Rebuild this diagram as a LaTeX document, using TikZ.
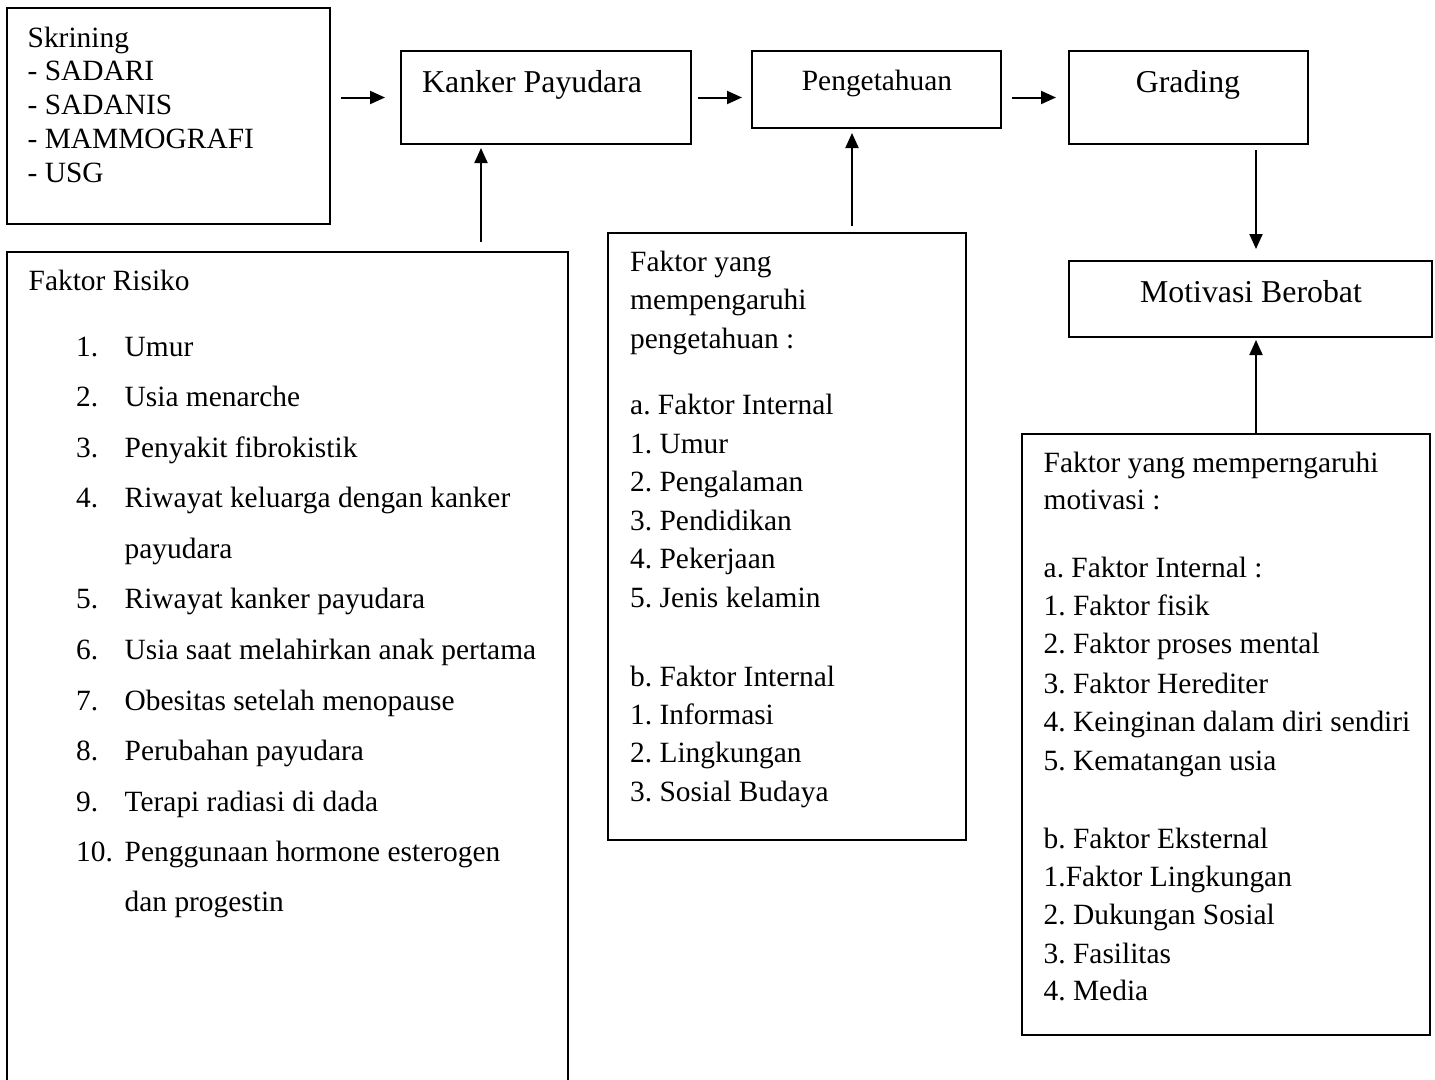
\documentclass[tikz,border=0pt]{standalone}
\usepackage{fontspec}
\setmainfont{Liberation Serif}
\usetikzlibrary{arrows.meta,calc}
\newcommand\fsa{\frenchspacing\fontsize{29.4pt}{35pt}\selectfont}
\newcommand\fsb{\frenchspacing\fontsize{31.8pt}{38pt}\selectfont}
\begin{document}
\frenchspacing
\begin{tikzpicture}[x=1pt,y=-1pt,
  box/.style={draw,line width=2pt,inner sep=0pt,rectangle},
  conn/.style={line width=2pt,-{Triangle[length=15pt,width=13pt]}},
  txt/.style={inner sep=0pt,anchor=base west,font=\fsa},
  ctxt/.style={inner sep=0pt,anchor=base,font=\fsb}]
\useasboundingbox (0,0) rectangle (1435,1079);
\clip (0,0) rectangle (1435,1079);
\fill[white] (0,0) rectangle (1435,1079);

% boxes
\node[box,minimum width=323pt,minimum height=216pt] (skr) at (168.5,116) {};
\node[box,minimum width=290pt,minimum height=93pt] (kanker) at (546,97.5) {};
\node[box,minimum width=249pt,minimum height=77pt] (peng) at (876.5,89.5) {};
\node[box,minimum width=239pt,minimum height=93pt] (grading) at (1188.5,97.5) {};
\node[box,minimum width=363pt,minimum height=76pt] (motiv) at (1250.5,299) {};
\node[box,minimum width=561pt,minimum height=848pt] (risiko) at (287.5,676) {};
\node[box,minimum width=358pt,minimum height=607pt] (pengfac) at (787,536.5) {};
\node[box,minimum width=408pt,minimum height=601pt] (motfac) at (1226,734.5) {};

% box titles
\node[txt,font=\fsb] (kt) at (422,92) {Kanker Payudara};
\node[ctxt,font=\fsa] (pt) at (877,90) {Pengetahuan};
\node[ctxt] (gt) at (1188,92) {Grading};
\node[ctxt] (mt) at (1251,302) {Motivasi Berobat};

% Skrining text
\foreach \yy/\tt in {47/Skrining,80/- SADARI,114/- SADANIS,148/- MAMMOGRAFI,182/- USG}
  \node[txt,name=s\yy] at (27.5,\yy) {\tt};

% Faktor risiko
\node[txt] (rt) at (28.5,290) {Faktor Risiko};
\foreach \yy/\nn/\tt in {356/1./Umur,406/2./Usia menarche,457/3./Penyakit fibrokistik,
  507/4./Riwayat keluarga dengan kanker,558//payudara,608/5./Riwayat kanker payudara,
  659/6./Usia saat melahirkan anak pertama,710/7./Obesitas setelah menopause,
  760/8./Perubahan payudara,811/9./Terapi radiasi di dada,
  861/10./Penggunaan hormone esterogen,911//dan progestin}{
  \node[txt,name=rn\yy] at (76,\yy) {\nn};
  \node[txt,name=ri\yy] at (124.5,\yy) {\tt};
}

% Faktor pengetahuan
\foreach \yy/\tt in {271/Faktor yang,309/mempengaruhi,348/pengetahuan :,
  414/a. Faktor Internal,453/1. Umur,491/2. Pengalaman,530/3. Pendidikan,
  568/4. Pekerjaan,607/5. Jenis kelamin,686/b. Faktor Internal,724/1. Informasi,
  762/2. Lingkungan,801/3. Sosial Budaya}
  \node[txt,name=p\yy] at (630,\yy) {\tt};

% Faktor motivasi
\foreach \yy/\tt in {472/Faktor yang memperngaruhi,509/motivasi :,
  577/a. Faktor Internal :,615/1. Faktor fisik,653/2. Faktor proses mental,
  693/3. Faktor Herediter,731/4. Keinginan dalam diri sendiri,770/5. Kematangan usia,
  848/b. Faktor Eksternal,886/1.Faktor Lingkungan,924/2. Dukungan Sosial,
  963/3. Fasilitas,1000/4. Media}
  \node[txt,name=m\yy] at (1043.5,\yy) {\tt};

% connector columns
\coordinate (rx) at (481,0);
\coordinate (px) at (852,0);
\coordinate (mx) at (1256,0);

% connectors
\draw[conn,shorten <=10pt,shorten >=15pt] (skr.east |- kanker.west) -- (kanker.west);
\draw[conn,shorten <=6pt,shorten >=9pt] (kanker.east) -- (kanker.east -| peng.west);
\draw[conn,shorten <=10pt,shorten >=12pt] (grading.west -| peng.east) -- (grading.west);
\draw[conn,shorten <=5pt,shorten >=11pt] (grading.south -| mx) -- (motiv.north -| mx);
\draw[conn,shorten >=2pt] (motfac.north -| mx) -- (motiv.south -| mx);
\draw[conn,shorten <=6pt,shorten >=4pt] (pengfac.north -| px) -- (peng.south -| px);
\draw[conn,shorten <=9pt,shorten >=3pt] (risiko.north -| rx) -- (kanker.south -| rx);
\end{tikzpicture}
\end{document}
